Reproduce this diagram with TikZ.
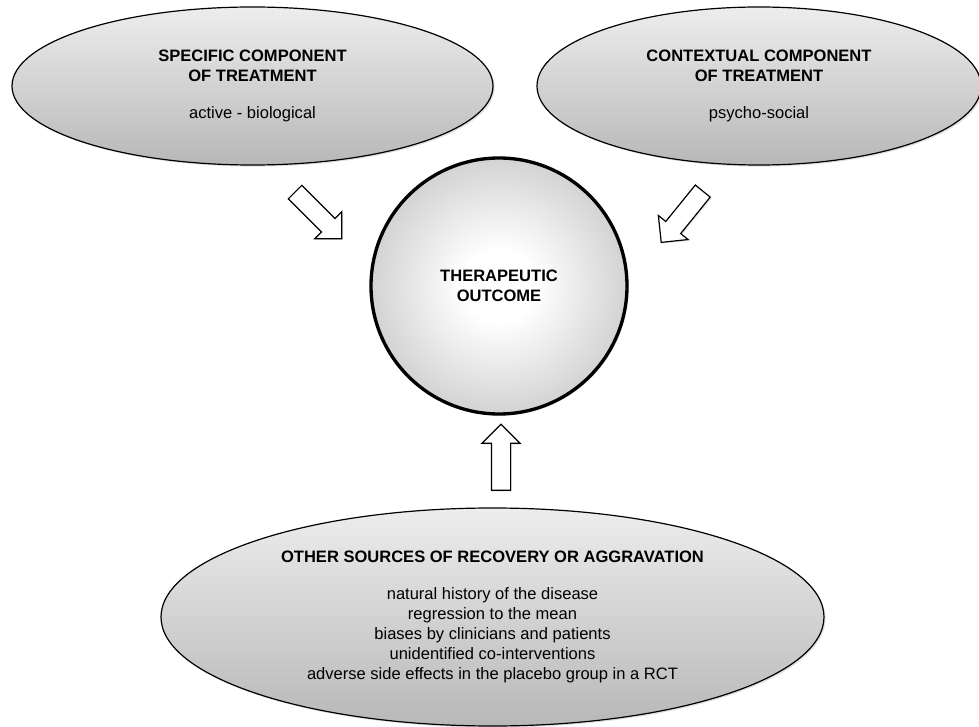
\documentclass[tikz,border=0pt]{standalone}
\usepackage{fontspec}
\setmainfont{Liberation Sans}
\usepackage{xcolor}
\usetikzlibrary{shapes.geometric,shapes.arrows,shadows}

\pgfdeclareradialshading{hubshade}{\pgfpoint{0bp}{0bp}}{%
  color(0bp)=(white); color(7bp)=(white); color(33bp)=(black!25);
  color(50bp)=(black!25)}

\begin{document}
\begin{tikzpicture}[
  x=0.75pt,y=-0.75pt,
  every node/.style={font=\fontsize{12.4}{15}\selectfont},
  ellip/.style={draw,ellipse,line width=0.9pt,inner sep=0pt,align=center,
    top color=black!7,bottom color=black!28,
    drop shadow={opacity=0.25,shadow xshift=1.2pt,shadow yshift=-1.2pt}},
  hub/.style={draw,circle,line width=2.5pt,inner sep=0pt,align=center,
    minimum size=192pt,shading=hubshade,
    drop shadow={opacity=0.2,shadow xshift=1.2pt,shadow yshift=-1.2pt}},
  blockarr/.style={draw,fill=white,single arrow,line width=0.9pt,
    inner xsep=0pt,inner ysep=6.75pt,text height=0pt,text depth=0pt,
    minimum height=49.5pt,minimum width=27.75pt,single arrow head extend=7.125pt,
    drop shadow={opacity=0.2,shadow xshift=1pt,shadow yshift=-1pt}}
]
\useasboundingbox (0,0) rectangle (979,727);

\node[ellip,minimum width=360.75pt,minimum height=118.5pt] (spec) at (252.5,86)
  {\textbf{SPECIFIC COMPONENT}\\\textbf{OF TREATMENT}\\[13pt]active - biological};
\node[ellip,minimum width=333pt,minimum height=118.5pt] (ctx) at (759,86)
  {\textbf{CONTEXTUAL COMPONENT}\\\textbf{OF TREATMENT}\\[13pt]psycho-social};

\node[hub] (out) at (499,286) {\textbf{THERAPEUTIC}\\\textbf{OUTCOME}};

\node[ellip,minimum width=497.25pt,minimum height=163.5pt] (other) at (492.5,617)
  {\textbf{OTHER SOURCES OF RECOVERY OR AGGRAVATION}\\[13pt]
   natural history of the disease\\
   regression to the mean\\
   biases by clinicians and patients\\
   unidentified co-interventions\\
   adverse side effects in the placebo group in a RCT};

% block arrows towards the outcome
\node[blockarr,rotate=-45] (specarr) at (315,212) {};
\node[blockarr,rotate=231] (ctxarr) at (685,213) {};
\node[blockarr,rotate=90] (otherarr) at (501,462) {};
\end{tikzpicture}
\end{document}
